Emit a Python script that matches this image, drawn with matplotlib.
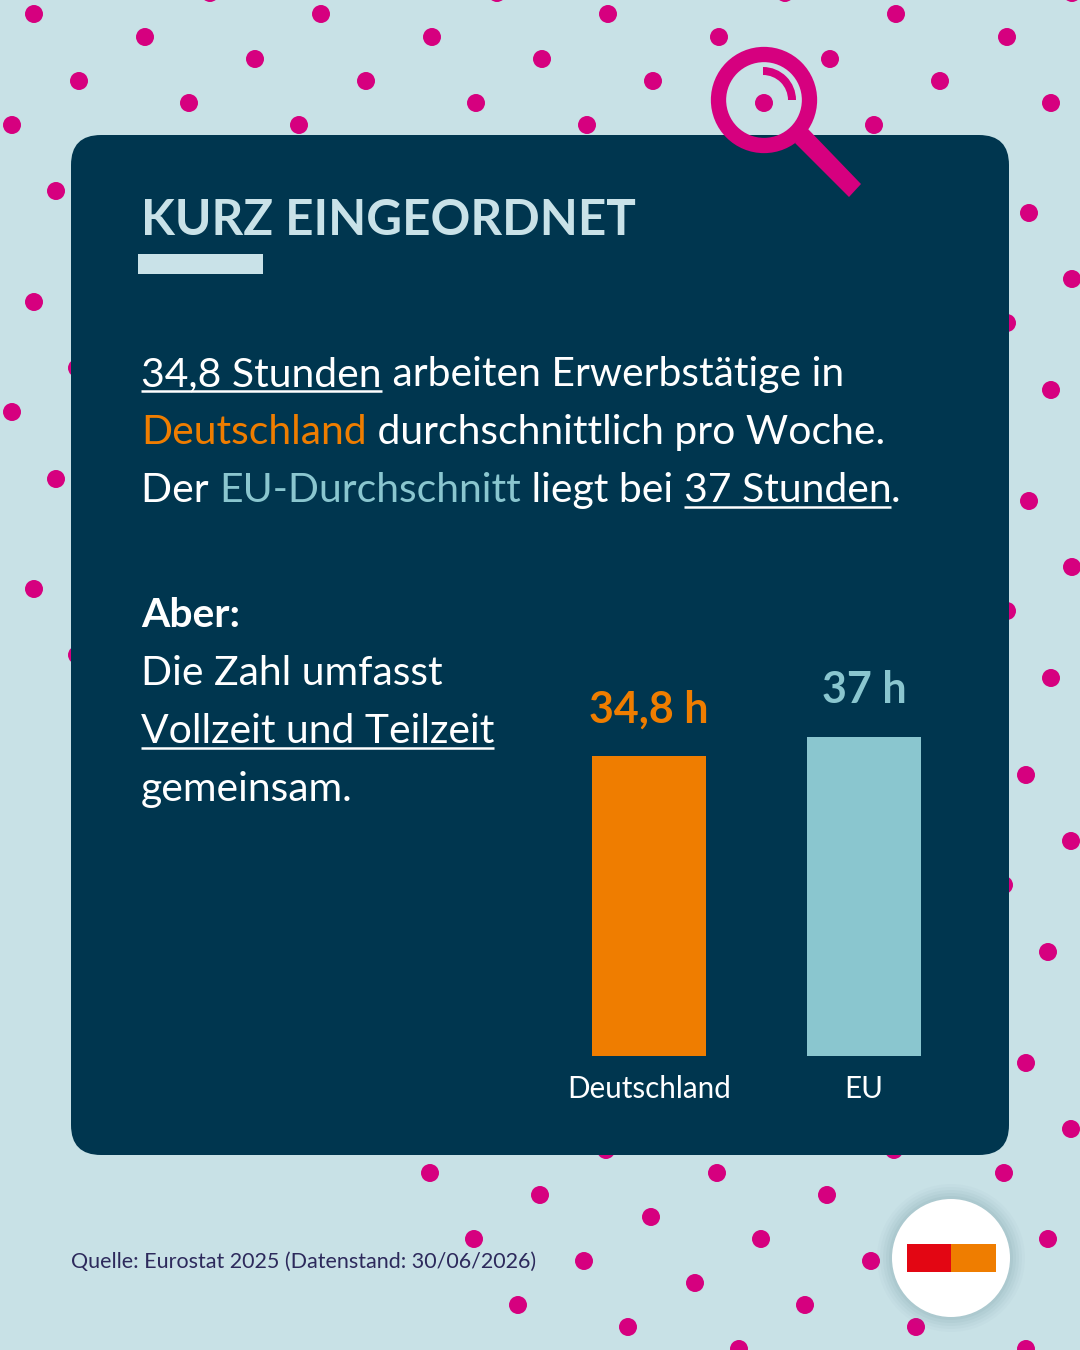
import matplotlib
matplotlib.use('Agg')
import matplotlib.pyplot as plt
from matplotlib.patches import Circle, FancyBboxPatch, Polygon, Rectangle, Wedge

# chart data
categories = ['Deutschland', 'EU']
hours = [34.8, 37]
value_labels = ['34,8 h', '37 h']

BG = '#C8E1E6'
PANEL = '#00364F'
MAGENTA = '#D6007F'
ORANGE = '#EF7D00'
LIGHTBLUE = '#8AC6CF'
PALE = '#C9E2E8'
FONT = ['Lato', 'DejaVu Sans']

# background dots, pixel positions
dots_x = [34, 145, 321, 432, 608, 719, 896, 1007, 79, 255, 189, 366, 542, 476, 653, 830, 764, 940, 1051,
          12, 299, 587, 874, 56, 1029, 34, 1072, 1007, 12, 1051, 77, 56, 1029, 34, 1072, 1007, 77, 1051,
          1026, 1071, 1004, 1048, 1026, 1071, 606, 894, 430, 717, 1004, 540, 827, 651, 474, 761, 1048,
          584, 871, 695, 518, 805, 628, 916, 739, 1026, 210, 497, 785, 1072]
dots_y = [14, 37, 14, 37, 14, 37, 14, 37, 81, 59, 103, 81, 59, 103, 81, 59, 103, 81, 103,
          125, 125, 125, 125, 191, 213, 302, 279, 323, 412, 390, 368, 479, 501, 589, 567, 611, 655, 678,
          775, 841, 885, 952, 1063, 1129, 1150, 1150, 1173, 1173, 1173, 1195, 1195, 1217, 1239, 1239, 1239,
          1261, 1261, 1283, 1305, 1305, 1327, 1327, 1349, 1349, -7, -7, -7, -7]

fig = plt.figure(figsize=(10.8, 13.5), dpi=100, facecolor=BG)
ax = fig.add_axes([0, 0, 1, 1])
ax.set_xlim(0, 1080)
ax.set_ylim(1350, 0)
ax.axis('off')

for x, y in zip(dots_x, dots_y):
    ax.add_patch(Circle((x, y), 9, color=MAGENTA, lw=0, zorder=1))

panel = FancyBboxPatch((71, 135), 938, 1020, boxstyle='round,pad=0,rounding_size=30', lw=0, fc=PANEL, zorder=2)
ax.add_patch(panel)

# magnifier
ax.add_patch(Circle((764, 100), 45.5, fill=False, ec=MAGENTA, lw=11, zorder=3))
ax.add_patch(Polygon([(795, 143), (808, 129), (861, 184), (849, 197)], color=MAGENTA, lw=0, zorder=3))
ax.add_patch(Wedge((763, 100), 33, -90, 0, width=8, color=MAGENTA, lw=0, zorder=3))

# heading
ax.text(141, 235, 'KURZ EINGEORDNET', color=PALE, fontsize=35.6, fontweight='bold', family=FONT, zorder=4, va='baseline')
ax.add_patch(Rectangle((138, 254), 125, 20, color=PALE, lw=0, zorder=4))


def runs(x, y, parts, size=29.4):
    # one line from (text, colour, underlined, weight) parts, one after the other
    r = fig.canvas.get_renderer()
    for text, color, under, weight in parts:
        t = ax.text(x, y, text, color=color, fontsize=size, fontweight=weight, family=FONT, va='baseline', zorder=4)
        w_text = t.get_window_extent(r).width
        # extents drop trailing spaces, so measure the advance with a dot behind the text
        probe = ax.text(x, y, text + '.', fontsize=size, fontweight=weight, family=FONT, alpha=0)
        dot = ax.text(x, y, '.', fontsize=size, fontweight=weight, family=FONT, alpha=0)
        adv = probe.get_window_extent(r).width - dot.get_window_extent(r).width
        probe.remove()
        dot.remove()
        adv = max(adv, w_text)
        if under:
            ax.plot([x, x + w_text], [y + 5, y + 5], color=color, lw=1.8, zorder=4, solid_capstyle='butt')
        x += adv


W = 'white'
runs(141, 386, [('34,8 Stunden', W, True, 'normal'), (' arbeiten Erwerbstätige in', W, False, 'normal')])
runs(141, 444, [('Deutschland', ORANGE, False, 'normal'), (' durchschnittlich pro Woche.', W, False, 'normal')])
runs(141, 502, [('Der ', W, False, 'normal'), ('EU-Durchschnitt', LIGHTBLUE, False, 'normal'),
                (' liegt bei ', W, False, 'normal'), ('37 Stunden', W, True, 'normal'), ('.', W, False, 'normal')])
runs(141, 627, [('Aber:', W, False, 'bold')])
runs(141, 685, [('Die Zahl umfasst', W, False, 'normal')])
runs(141, 743, [('Vollzeit und Teilzeit', W, True, 'normal')])
runs(141, 801, [('gemeinsam.', W, False, 'normal')])

# bars, axes placed so that 0 h sits at y=1056 px
bx = fig.add_axes([541 / 1080, (1350 - 1056) / 1350, 431 / 1080, 345 / 1350])
bx.patch.set_alpha(0)
bars = bx.bar(categories, hours, width=114 / 215, color=[ORANGE, LIGHTBLUE])
bx.set_xlim(-(649 - 541) / 215, (972 - 649) / 215)
bx.set_ylim(0, 40)
for s in bx.spines.values():
    s.set_visible(False)
bx.set_yticks([])
bx.tick_params(axis='x', length=0, pad=14, colors='white')
for lab in bx.get_xticklabels():
    lab.set_fontsize(21.3)
    lab.set_family(FONT)
for bar, label, col in zip(bars, value_labels, [ORANGE, LIGHTBLUE]):
    bx.annotate(label, (bar.get_x() + bar.get_width() / 2, bar.get_height()), xytext=(0, 19), textcoords='offset points',
                ha='center', va='bottom', color=col, fontsize=31, fontweight='bold', family=FONT, annotation_clip=False)

# source
ax.text(71, 1268, 'Quelle: Eurostat 2025 (Datenstand: 30/06/2026)', color='#2D2A5C', fontsize=15.5, family=FONT, zorder=4)

# logo with soft shadow
for rad, al in [(74, 0.03), (71, 0.04), (68, 0.05), (65, 0.06), (62, 0.07)]:
    ax.add_patch(Circle((951, 1258), rad, color='#5A7F88', alpha=al, lw=0, zorder=3))
ax.add_patch(Circle((951, 1258), 59, color='white', lw=0, zorder=4))
ax.add_patch(Rectangle((907, 1244), 44, 28, color='#E30613', lw=0, zorder=5))
ax.add_patch(Rectangle((951, 1244), 45, 28, color=ORANGE, lw=0, zorder=5))

fig.savefig('out.png', dpi=100, facecolor=BG)
